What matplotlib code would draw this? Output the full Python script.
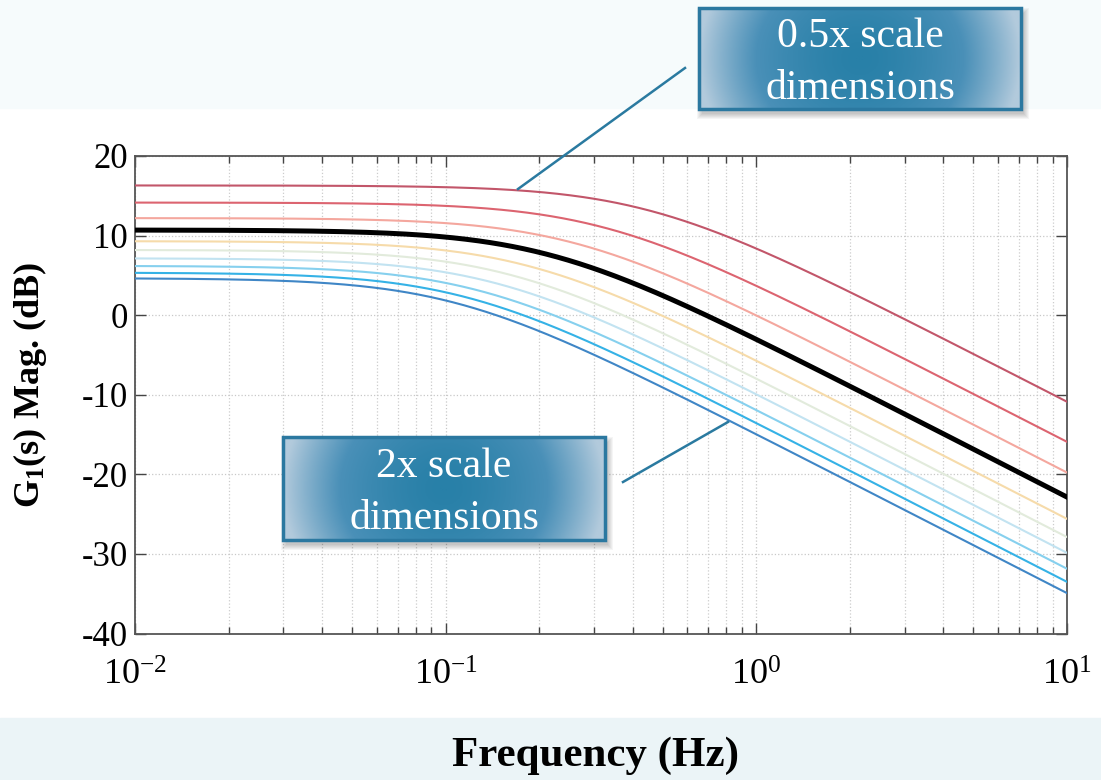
import numpy as np
import matplotlib
matplotlib.use('Agg')
import matplotlib.pyplot as plt
from matplotlib.patches import Rectangle
from matplotlib.lines import Line2D
from matplotlib.colors import LinearSegmentedColormap
from matplotlib.ticker import NullLocator, LogLocator

plt.rcParams['font.family'] = ['Liberation Serif', 'DejaVu Serif']
plt.rcParams['mathtext.fontset'] = 'custom'
plt.rcParams['mathtext.rm'] = 'Liberation Serif'
plt.rcParams['mathtext.it'] = 'Liberation Serif:italic'
plt.rcParams['mathtext.bf'] = 'Liberation Serif:bold'

# first-order responses: DC gain (dB) and corner (Hz)
dc_gain_db = [16.3, 14.15, 12.2, 10.7, 9.3, 8.2, 7.15, 6.2, 5.35, 4.65]
corner_hz = [0.438, 0.314, 0.252, 0.210, 0.180, 0.157, 0.141, 0.125, 0.114, 0.105]
line_colors = ['#c2566a', '#dc6470', '#f4a79e', 'black', '#f6dbaa',
               '#e2ebdc', '#c2e3f1', '#86d0ee', '#35b2e6', '#3f86c6']
nominal_idx = 3  # the thick black curve

ytick_values = [-40, -30, -20, -10, 0, 10, 20]
xtick_values = [1e-2, 1e-1, 1e0, 1e1]
xtick_labels = [r'$10^{-2}$', r'$10^{-1}$', r'$10^{0}$', r'$10^{1}$']

W, H = 1101, 780


def fx(px):
    return px / W


def fy(py):
    return 1 - py / H


fig = plt.figure(figsize=(W / 100, H / 100), dpi=100)
fig.patch.set_facecolor('white')

# slide-like background bands
fig.add_artist(Rectangle((0, fy(108)), 1, 108 / H, transform=fig.transFigure,
                         color='#f6fbfc', zorder=-10))
fig.add_artist(Rectangle((0, 0), 1, (780 - 718) / H, transform=fig.transFigure,
                         color='#ebf4f7', zorder=-10))

ax = fig.add_axes([fx(135), fy(633.5), (1067 - 135) / W, (633.5 - 156) / H])
ax.set_xscale('log')

freq = np.logspace(-2, 1, 500)
for i, (k, fc, c) in enumerate(zip(dc_gain_db, corner_hz, line_colors)):
    mag = k - 10 * np.log10(1 + (freq / fc) ** 2)
    if i == nominal_idx:
        ax.plot(freq, mag, color=c, lw=3.6, zorder=4)
    else:
        ax.plot(freq, mag, color=c, lw=1.5, zorder=3)

ax.set_xlim(1e-2, 1e1)
ax.set_ylim(-40, 20)
ax.set_yticks(ytick_values)
ax.set_yticklabels([str(v) for v in ytick_values])
ax.set_xticks(xtick_values)
ax.set_xticklabels(xtick_labels)
ax.xaxis.set_minor_locator(LogLocator(base=10, subs=np.arange(2, 10)))
ax.yaxis.set_minor_locator(NullLocator())

ax.grid(True, which='major', ls=':', color='#c8c8c8', lw=0.9)
ax.grid(True, which='minor', axis='x', ls=':', color='#cccccc', lw=0.9)
ax.tick_params(which='both', direction='in', top=True, right=True,
               color='#444444', width=1)
ax.tick_params(which='major', length=8, labelsize=25, pad=5)
ax.tick_params(which='minor', length=5)
ax.tick_params(axis='x', which='major', labelsize=26, pad=19)
for s in ax.spines.values():
    s.set_color('#555555')
    s.set_linewidth(1.3)

fig.text(fx(30), fy(385), r'$\mathbf{G}_\mathbf{1}$(s) Mag. (dB)', rotation=90,
         ha='center', va='center', fontsize=26, fontweight='bold')
fig.text(fx(596), fy(756), 'Frequency (Hz)', ha='center', va='center',
         fontsize=31, fontweight='bold')

# callout boxes with radial blue gradient
box_cmap = LinearSegmentedColormap.from_list('box', ['#2880a8', '#4a90b8', '#b2cadc'])
gx, gy = np.meshgrid(np.linspace(-1, 1, 300), np.linspace(-1, 1, 100))
grad = np.clip(np.sqrt(gx ** 2 + (0.35 * gy) ** 2), 0, 1) ** 1.6


def callout(x0, y0, x1, y1, text):
    for k in range(6):
        fig.add_artist(Rectangle((fx(x0 + 3 - k), fy(y1 + 5 + k)),
                                 (x1 - x0 + 2 * k) / W, (y1 - y0 + 2 * k) / H,
                                 transform=fig.transFigure, color='black',
                                 alpha=0.04, lw=0, zorder=5.5))
    bax = fig.add_axes([fx(x0), fy(y1), (x1 - x0) / W, (y1 - y0) / H], zorder=6)
    bax.imshow(grad, cmap=box_cmap, aspect='auto', extent=[0, 1, 0, 1],
               interpolation='bilinear', vmin=0, vmax=1)
    bax.set_xlim(0, 1)
    bax.set_ylim(0, 1)
    bax.axis('off')
    bax.add_patch(Rectangle((0, 0), 1, 1, fill=False, ec='#2b78a0', lw=2.5,
                            transform=bax.transAxes, clip_on=False))
    bax.text(0.5, 0.46, text, ha='center', va='center', color='white',
             fontsize=30, linespacing=1.45, transform=bax.transAxes)


# leader lines
fig.add_artist(Line2D([fx(685), fx(518)], [fy(68), fy(189)], color='#2a7aa0',
                      lw=1.8, zorder=5))
fig.add_artist(Line2D([fx(623), fx(728)], [fy(482), fy(422)], color='#2a7aa0',
                      lw=1.8, zorder=5))

callout(699, 8, 1021, 109, '0.5x scale\ndimensions')
callout(283, 437, 605, 540, '2x scale\ndimensions')

fig.savefig('out.png', dpi=100)
